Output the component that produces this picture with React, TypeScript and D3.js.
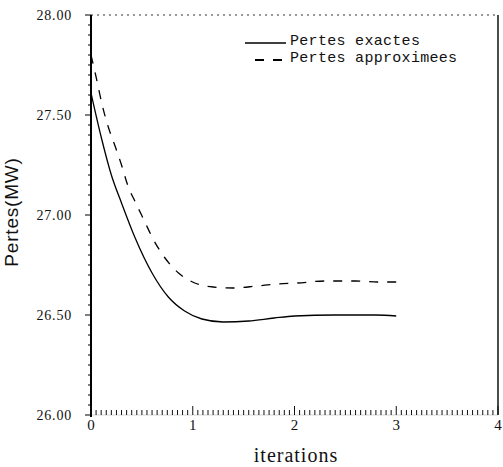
import React from "react";
import * as d3 from "d3";

const W = 503;
const H = 467;

const yTicks = [26.0, 26.5, 27.0, 27.5, 28.0];
const xTicks = [0, 1, 2, 3, 4];

const exactX = [0, 0.1, 0.2, 0.3, 0.43, 0.6, 0.76, 0.92, 1.09, 1.3, 1.55, 1.8, 2.0, 2.4, 2.8, 3.0];
const exactY = [27.61, 27.39, 27.2, 27.06, 26.89, 26.71, 26.59, 26.52, 26.48, 26.465, 26.47, 26.485, 26.495, 26.5, 26.5, 26.495];

const approxX = [0, 0.05, 0.11, 0.17, 0.24, 0.3, 0.36, 0.44, 0.525, 0.61, 0.72, 0.86, 1.02, 1.2, 1.4, 1.63, 1.83, 2.03, 2.3, 2.6, 2.82, 3.0];
const approxY = [27.8, 27.69, 27.55, 27.44, 27.34, 27.25, 27.15, 27.06, 26.97, 26.88, 26.79, 26.71, 26.66, 26.64, 26.635, 26.645, 26.655, 26.66, 26.67, 26.67, 26.665, 26.665];

const legendLabels = ["Pertes exactes", "Pertes approximees"];

export default function App() {
  const x = d3.scaleLinear().domain([0, 4]).range([91, 498]);
  const y = d3.scaleLinear().domain([26, 28]).range([415, 15]);

  const line = d3
    .line<[number, number]>()
    .x((d) => x(d[0]))
    .y((d) => y(d[1]))
    .curve(d3.curveMonotoneX);

  const exactPts = exactX.map((v, i) => [v, exactY[i]] as [number, number]);
  const approxPts = approxX.map((v, i) => [v, approxY[i]] as [number, number]);

  const yMinor = d3.range(0, 41).map((i) => 26 + i * 0.05);
  const xMinor = d3.range(0, 81).map((i) => i * 0.05);

  const serif = "'Liberation Serif', 'DejaVu Serif', serif";
  const mono = "'Liberation Mono', 'DejaVu Sans Mono', monospace";

  return (
    <svg
      width={W}
      height={H}
      style={{ position: "absolute", left: 0, top: 0, background: "#fff" }}
    >
      <rect x={0} y={0} width={W} height={H} fill="#fff" />
      {/* top border dotted */}
      <line x1={x(0)} x2={x(4)} y1={y(28)} y2={y(28)} stroke="#333" strokeWidth={1} strokeDasharray="2,4" />
      {/* right border */}
      <line x1={x(4)} x2={x(4)} y1={y(28)} y2={y(26)} stroke="#111" strokeWidth={1.5} />
      {/* bottom baseline */}
      <line x1={x(0)} x2={x(4)} y1={y(26)} y2={y(26)} stroke="#bbb" strokeWidth={0.6} />
      {/* left axis */}
      <line x1={x(0)} x2={x(0)} y1={y(28)} y2={y(26) + 2} stroke="#000" strokeWidth={2} />
      {yMinor.map((v, i) => {
        const major = i % 10 === 0;
        return (
          <line
            key={"ym" + i}
            x1={x(0) - (major ? 6 : 3)}
            x2={x(0)}
            y1={y(v)}
            y2={y(v)}
            stroke="#000"
            strokeWidth={1}
          />
        );
      })}
      {xMinor.map((v, i) => {
        const major = i % 20 === 0;
        return (
          <line
            key={"xm" + i}
            x1={x(v)}
            x2={x(v)}
            y1={y(26)}
            y2={y(26) - (major ? 9 : 5)}
            stroke="#111"
            strokeWidth={1}
          />
        );
      })}
      {yTicks.map((t) => (
        <text
          key={"yt" + t}
          x={72}
          y={y(t) + 5}
          textAnchor="end"
          fontFamily={serif}
          fontSize={14}
          letterSpacing={0.8}
          fill="#111"
        >
          {t.toFixed(2)}
        </text>
      ))}
      {xTicks.map((t) => (
        <text
          key={"xt" + t}
          x={x(t)}
          y={430}
          textAnchor="middle"
          fontFamily={serif}
          fontSize={15}
          fill="#111"
        >
          {String(t)}
        </text>
      ))}
      <text
        x={296}
        y={462}
        textAnchor="middle"
        fontFamily={serif}
        fontSize={20}
        letterSpacing={1}
        fill="#111"
      >
        iterations
      </text>
      <text
        transform={`translate(18, ${212}) rotate(-90)`}
        textAnchor="middle"
        fontFamily="'Liberation Sans', Arial, sans-serif"
        fontSize={19}
        letterSpacing={0.8}
        fill="#111"
      >
        Pertes(MW)
      </text>

      {/* curves */}
      <path d={line(exactPts) || ""} fill="none" stroke="#000" strokeWidth={1.3} />
      <path d={line(approxPts) || ""} fill="none" stroke="#000" strokeWidth={1.3} strokeDasharray="9,9" />

      {/* legend */}
      <line x1={245} x2={286} y1={43} y2={43} stroke="#000" strokeWidth={1.3} />
      <line x1={255} x2={286} y1={60} y2={60} stroke="#000" strokeWidth={1.8} strokeDasharray="9,9" />
      <text x={290} y={45} fontFamily={mono} fontSize={15} fill="#111" letterSpacing={0.3}>
        {legendLabels[0]}
      </text>
      <text x={290} y={62} fontFamily={mono} fontSize={15} fill="#111" letterSpacing={0.3}>
        {legendLabels[1]}
      </text>
    </svg>
  );
}
